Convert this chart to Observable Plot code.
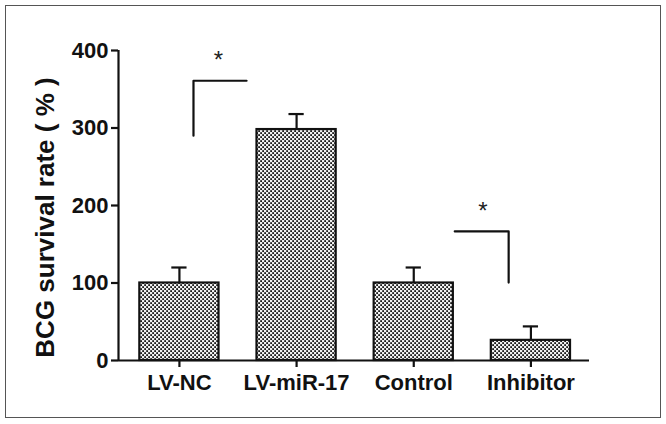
<!DOCTYPE html>
<html>
<head>
<meta charset="utf-8">
<script src="https://cdn.jsdelivr.net/npm/d3@7"></script>
<script src="https://cdn.jsdelivr.net/npm/@observablehq/plot@0.6"></script>
<style>
  body { margin: 0; background: #fff; }
  #wrap { position: relative; width: 666px; height: 424px; overflow: hidden; }
  #frame { position: absolute; left: 5px; top: 5px; width: 654px; height: 411px; border: 1.5px solid #555; pointer-events: none; }
</style>
</head>
<body>
<div id="wrap"><div id="frame"></div></div>
<script>
// ---- data ----
const categories = ["LV-NC", "LV-miR-17", "Control", "Inhibitor"];
const means = [100, 298, 100, 26];
const upper = [120, 318, 120, 44];
const yTicks = [0, 100, 200, 300, 400];
const yTitle = "BCG survival rate ( % )";
// significance brackets (x in category index units, y in %)
const bracket1X = [0.12, 0.12, 0.573];
const bracket1Y = [290, 361, 361];
const bracket2X = [2.35, 2.81, 2.81];
const bracket2Y = [166.5, 166.5, 100.6];
const starX = [0.333, 2.59];
const starY = [391, 197];

const xDomain = [-0.52, 3.5];
const halfBar = 0.338;
const halfCap = 0.065;

const bars = categories.map((c, i) => ({i, c, mean: means[i], upper: upper[i]}));
const brackets = [
  ...bracket1X.map((x, k) => ({g: 1, x, y: bracket1Y[k]})),
  ...bracket2X.map((x, k) => ({g: 2, x, y: bracket2Y[k]}))
];
const stars = starX.map((x, k) => ({x, y: starY[k]}));

const chart = Plot.plot({
  width: 666,
  height: 424,
  marginLeft: 118,
  marginRight: 77,
  marginTop: 50,
  marginBottom: 64,
  style: {fontFamily: "'Liberation Sans', Arial, sans-serif", fontSize: "22px", fontWeight: "bold", color: "#111", background: "transparent"},
  x: {domain: xDomain, axis: null},
  y: {domain: [0, 400], axis: null},
  marks: [
    Plot.rectY(bars, {x1: d => d.i - halfBar, x2: d => d.i + halfBar, y: "mean", fill: "url(#dots)", stroke: "#111", strokeWidth: 2.2}),
    Plot.ruleX(bars, {x: "i", y1: "mean", y2: "upper", stroke: "#111", strokeWidth: 2.2}),
    Plot.ruleY(bars, {y: "upper", x1: d => d.i - halfCap, x2: d => d.i + halfCap, stroke: "#111", strokeWidth: 2.2}),
    Plot.ruleY([0], {x1: xDomain[0], x2: xDomain[1], stroke: "#111", strokeWidth: 2.2}),
    Plot.ruleX([xDomain[0]], {y1: 0, y2: 400, stroke: "#111", strokeWidth: 2.2}),
    Plot.axisY({ticks: yTicks, tickSize: 7, tickPadding: 3, label: null, strokeWidth: 2.2, fontSize: 22}),
    Plot.axisX({ticks: categories.map((c, i) => i), tickFormat: i => categories[i], tickSize: 7, tickPadding: 7, label: null, strokeWidth: 2.2, fontSize: 22}),
    Plot.text([yTitle], {frameAnchor: "left", textAnchor: "middle", text: d => d, rotate: -90, dx: -73, dy: 12, fontSize: 26, fontWeight: "bold"}),
    Plot.line(brackets, {x: "x", y: "y", z: "g", stroke: "#111", strokeWidth: 2.2}),
    Plot.text(stars, {x: "x", y: "y", text: () => "*", fontSize: 24, fontWeight: "normal", fill: "#222", dy: 3})
  ]
});

// dot pattern for bar fill
const svg = d3.select(chart);
const defs = svg.insert("defs", ":first-child");
const pat = defs.append("pattern").attr("id", "dots").attr("patternUnits", "userSpaceOnUse")
  .attr("width", 4).attr("height", 4);
pat.append("rect").attr("width", 4).attr("height", 4).attr("fill", "#f0f0f0");
pat.append("rect").attr("x", 0.2).attr("y", 0.2).attr("width", 1.8).attr("height", 1.8).attr("fill", "#1a1a1a");
pat.append("rect").attr("x", 2.2).attr("y", 2.2).attr("width", 1.8).attr("height", 1.8).attr("fill", "#1a1a1a");

document.getElementById("wrap").prepend(chart);
</script>
</body>
</html>
